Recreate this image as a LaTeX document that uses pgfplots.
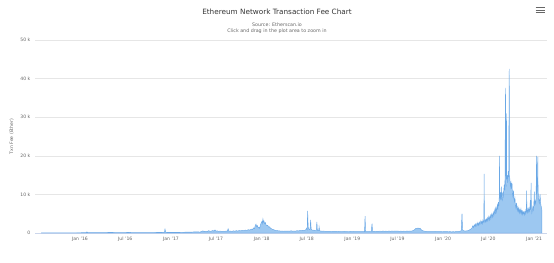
\documentclass[border=0pt]{standalone}
\usepackage{pgfplots}
\pgfplotsset{compat=1.18}
\usepackage{fontspec}
\setmainfont{DejaVu Sans}
\definecolor{hcblue}{HTML}{7CB5EC}
\definecolor{hcline}{HTML}{6AA8E6}
\definecolor{hcgrid}{HTML}{E6E6E6}
\definecolor{hcaxis}{HTML}{CCD6EB}
\definecolor{hctitle}{HTML}{333333}
\definecolor{hclabel}{HTML}{666666}
\pgfplotstableread{
day fee
-155 20
-120 40
-90 60
-60 50
-30 60
0 70
24 80
28 300
32 80
60 90
90 100
120 150
150 120
180 100
200 200
205 100
230 100
260 130
290 120
320 150
335 200
340 200
342 1000
345 200
360 150
390 180
420 200
450 250
470 300
483 250
489 400
495 550
500 350
506 450
512 380
518 600
523 420
529 500
535 650
539 450
543 800
547 480
552 550
558 420
564 500
570 380
576 460
582 400
588 520
593 450
596 1100
599 450
605 500
611 420
617 550
623 480
629 600
635 500
641 650
647 560
653 700
659 600
665 750
671 650
677 850
683 750
689 1000
694 900
698 1300
702 1100
705 1900
708 2300
711 1600
714 1900
717 1300
720 1500
723 1200
726 2100
729 2600
732 3000
734 2500
736 3600
738 2800
740 3100
743 2400
746 2700
748 2200
751 1900
755 2000
759 1500
763 1600
767 1200
771 1100
775 900
780 850
785 700
790 650
795 600
801 550
807 500
813 520
819 450
825 500
831 470
837 520
843 480
849 550
855 500
861 520
867 480
873 600
879 550
885 650
891 600
897 700
903 650
908 800
912 1200
914 900
916 5700
918 1500
921 1000
924 900
926 1200
928 3400
930 1000
933 800
937 700
941 750
945 600
949 650
951 700
953 2900
955 700
958 600
961 800
962 1600
964 600
968 500
974 450
980 500
986 420
992 450
998 400
1004 430
1010 380
1016 420
1022 400
1028 450
1034 380
1040 420
1046 350
1052 400
1058 360
1064 420
1070 350
1076 400
1082 380
1088 420
1094 360
1100 400
1106 350
1112 380
1118 340
1124 380
1130 350
1136 370
1142 340
1145 360
1147 4400
1149 360
1155 380
1161 340
1167 400
1172 370
1175 2400
1177 380
1183 420
1189 380
1195 450
1201 400
1207 480
1213 420
1219 500
1225 430
1231 480
1237 420
1243 500
1249 440
1255 520
1261 450
1267 520
1273 460
1279 500
1285 430
1291 480
1297 420
1303 480
1309 430
1315 500
1321 450
1327 520
1333 480
1339 600
1344 750
1348 1000
1352 1200
1356 1100
1360 1300
1364 1150
1368 1250
1372 900
1376 700
1381 550
1387 450
1393 400
1399 350
1405 380
1411 330
1417 380
1423 340
1429 400
1435 350
1441 380
1447 330
1453 360
1459 320
1465 370
1471 330
1477 360
1483 320
1489 350
1495 300
1501 340
1507 310
1513 360
1519 330
1525 420
1531 500
1534 700
1537 5000
1539 900
1543 600
1549 500
1555 550
1561 600
1567 800
1572 1000
1577 1300
1579 1600
1581 1900
1583 1400
1585 1700
1587 2100
1589 1800
1591 2300
1593 1700
1595 2000
1597 2500
1599 2100
1601 2700
1603 2000
1605 2400
1607 2800
1609 2200
1611 2600
1613 3200
1615 2500
1617 2900
1619 2400
1621 3300
1623 2800
1625 3200
1626 15300
1627 3300
1629 2800
1631 3400
1633 2900
1635 3600
1637 3100
1639 3900
1641 3200
1643 3700
1645 4300
1647 3400
1649 4000
1651 4600
1653 3700
1655 4400
1657 5000
1659 4100
1661 4700
1663 5400
1665 4500
1667 5300
1669 6000
1671 4900
1673 6800
1675 5500
1677 6300
1679 7200
1681 6000
1683 8000
1685 7000
1687 9500
1688 20000
1689 9000
1691 10500
1693 8500
1695 12000
1697 9000
1699 8500
1701 10500
1703 9500
1705 11000
1707 12500
1709 11000
1710 14000
1712 37600
1713 13000
1715 12000
1716 31000
1717 14000
1719 15000
1721 13000
1723 16000
1725 14500
1727 42500
1728 15000
1730 13500
1732 12000
1734 13000
1736 11500
1738 13000
1740 10000
1742 9400
1744 11000
1746 9000
1748 8200
1750 9000
1752 7000
1754 6400
1756 7800
1758 6500
1760 5800
1762 6800
1764 5600
1766 6300
1768 5200
1770 6000
1772 5300
1774 6200
1776 5000
1778 5700
1780 4800
1782 5600
1784 5000
1786 5400
1788 4700
1790 5500
1792 5000
1794 6000
1796 5500
1797 11000
1798 6000
1800 5300
1802 6200
1804 5500
1806 6400
1808 5600
1810 6300
1812 8500
1813 6000
1815 13000
1816 6200
1818 5200
1820 6000
1822 6800
1824 6000
1826 7200
1828 10700
1829 7500
1831 8200
1833 7600
1835 9000
1837 20000
1838 10000
1840 12000
1842 19700
1843 11000
1845 9000
1847 8000
1848 7700
1850 9000
1851 10000
1853 8000
1855 7000
1856 6800
1858 6000
}\feedata
\begin{document}
\begin{tikzpicture}[x=1bp,y=1bp]
\path[use as bounding box] (0,0) rectangle (554,262);
\begin{axis}[
  at={(35bp,29bp)}, anchor=south west,
  width=512bp, height=193bp, scale only axis,
  xmin=-181, xmax=1879, ymin=0, ymax=50000,
  axis x line*=bottom, axis y line*=left,
  x axis line style={draw=hcaxis, line width=0.6bp, -},
  y axis line style={draw=none},
  ymajorgrids, grid style={draw=hcgrid, line width=0.5bp},
  ytick={0,10000,20000,30000,40000,50000},
  yticklabels={0,10 k,20 k,30 k,40 k,50 k},
  scaled y ticks=false,
  xtick={0,182,366,547,731,912,1096,1277,1461,1643,1827},
  xticklabels={Jan '16,Jul '16,Jan '17,Jul '17,Jan '18,Jul '18,Jan '19,Jul '19,Jan '20,Jul '20,Jan '21},
  tick style={draw=none},
  yticklabel style={font=\fontsize{4.6}{5}\selectfont, text=hclabel, inner sep=0pt, xshift=-4.5bp},
  xticklabel style={font=\fontsize{4.6}{5}\selectfont, text=hclabel, inner sep=0pt, yshift=-4bp},
  ylabel={Txn Fee (Ether)},
  every axis y label/.style={at={(axis description cs:-0.0455,0.5)}, rotate=90, anchor=center, font=\fontsize{4.6}{5}\selectfont, text=hclabel},
  clip=false,
]
\addplot[draw=hcline, line width=0.45bp, fill=hcblue, fill opacity=0.75] table[x=day,y=fee] {\feedata} \closedcycle;
\end{axis}
\node[font=\fontsize{7.3}{8}\selectfont, text=hctitle] at (277,250) {Ethereum Network Transaction Fee Chart};
\node[font=\fontsize{4.8}{5}\selectfont, text=hclabel] at (277,237.6) {Source: Etherscan.io};
\node[font=\fontsize{4.8}{5}\selectfont, text=hclabel] at (277,231) {Click and drag in the plot area to zoom in};
\draw[hclabel, line width=0.9bp] (535.5,254.5) -- (544.5,254.5) (535.5,252) -- (544.5,252) (535.5,249.5) -- (544.5,249.5);
\end{tikzpicture}
\end{document}
